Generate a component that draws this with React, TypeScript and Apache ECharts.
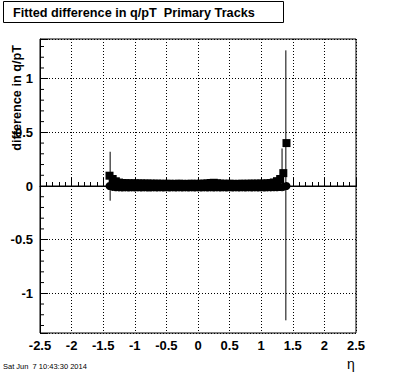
import React, { useEffect, useRef } from "react";
import * as echarts from "echarts";

// eta bin centres
const etaBins = [
  -1.4, -1.35, -1.3, -1.25, -1.2, -1.15, -1.1, -1.05, -1.0, -0.95,
  -0.9, -0.85, -0.8, -0.75, -0.7, -0.65, -0.6, -0.55, -0.5, -0.45,
  -0.4, -0.35, -0.3, -0.25, -0.2, -0.15, -0.1, -0.05, 0.0, 0.05,
  0.1, 0.15, 0.2, 0.25, 0.3, 0.35, 0.4, 0.45, 0.5, 0.55,
  0.6, 0.65, 0.7, 0.75, 0.8, 0.85, 0.9, 0.95, 1.0, 1.05,
  1.1, 1.15, 1.2, 1.25, 1.3, 1.35, 1.4,
];
// fitted difference (square markers)
const fittedDiff = [
  0.096, 0.065, 0.044, 0.032, 0.028, 0.026, 0.025, 0.024, 0.025, 0.023,
  0.024, 0.022, 0.023, 0.022, 0.021, 0.022, 0.02, 0.021, 0.02, 0.021,
  0.019, 0.02, 0.021, 0.02, 0.019, 0.02, 0.021, 0.02, 0.02, 0.021,
  0.022, 0.024, 0.028, 0.03, 0.025, 0.022, 0.021, 0.02, 0.021, 0.02,
  0.019, 0.02, 0.021, 0.02, 0.021, 0.022, 0.021, 0.022, 0.023, 0.022,
  0.025, 0.027, 0.033, 0.045, 0.065, 0.12, 0.4,
];
// second distribution (circle markers)
const circleDiff = [
  0.0, -0.008, -0.012, -0.013, -0.014, -0.013, -0.014, -0.013, -0.014, -0.013,
  -0.014, -0.013, -0.014, -0.014, -0.013, -0.014, -0.013, -0.014, -0.013, -0.014,
  -0.013, -0.014, -0.013, -0.014, -0.013, -0.014, -0.013, -0.014, -0.013, -0.014,
  -0.013, -0.014, -0.013, -0.014, -0.013, -0.014, -0.013, -0.014, -0.013, -0.014,
  -0.013, -0.014, -0.013, -0.014, -0.013, -0.014, -0.013, -0.014, -0.013, -0.014,
  -0.013, -0.013, -0.012, -0.012, -0.01, -0.008, 0.0,
];
// visible error bars: [eta, low, high]
const errorBars = [
  [-1.39, -0.137, 0.319],
  [1.33, -0.05, 0.35],
  [1.39, -1.252, 1.264],
];
// y-axis minor tick positions
const yMinorTicks = [
  -1.3, -1.2, -1.1, -0.9, -0.8, -0.7, -0.6, -0.4, -0.3, -0.2, -0.1,
  0.1, 0.2, 0.3, 0.4, 0.6, 0.7, 0.8, 0.9, 1.1, 1.2, 1.3,
];

const X_MIN = -2.5;
const X_MAX = 2.5;
const Y_MIN = -1.37;
const Y_MAX = 1.37;

const FONT = "'Liberation Sans', Arial, Helvetica, sans-serif";

export default function App() {
  const ref = useRef<HTMLDivElement>(null);

  useEffect(() => {
    if (!ref.current) return;
    const chart = echarts.init(ref.current, undefined, { renderer: "svg" });

    const squares = etaBins.map((e, i) => [e, fittedDiff[i]]);
    const circles = etaBins.map((e, i) => [e, circleDiff[i]]);

    const option: any = {
      animation: false,
      backgroundColor: "#ffffff",
      grid: {
        left: 40,
        right: 40,
        top: 39,
        bottom: 39,
        show: true,
        borderColor: "#000",
        borderWidth: 1,
        backgroundColor: "transparent",
        containLabel: false,
      },
      xAxis: {
        type: "value",
        min: X_MIN,
        max: X_MAX,
        interval: 0.5,
        axisLine: { show: true, lineStyle: { color: "#000", width: 1 } },
        axisTick: { show: true, inside: true, length: 8, lineStyle: { color: "#000" } },
        minorTick: { show: true, splitNumber: 5, length: 4, lineStyle: { color: "#000" } },
        splitLine: { show: true, lineStyle: { color: "#000", width: 1, type: [1, 2] } },
        axisLabel: {
          color: "#000",
          fontFamily: FONT,
          fontWeight: "bold",
          fontSize: 13,
          margin: 6,
          formatter: (v: number) => String(Math.round(v * 10) / 10),
        },
      },
      yAxis: {
        type: "value",
        min: Y_MIN,
        max: Y_MAX,
        minInterval: 0.5,
        maxInterval: 0.5,
        axisLine: { show: true, onZero: false, lineStyle: { color: "#000", width: 1 } },
        axisTick: { show: true, inside: true, length: 8, lineStyle: { color: "#000" } },
        splitLine: { show: true, lineStyle: { color: "#000", width: 1, type: [1, 2] } },
        axisLabel: {
          color: "#000",
          fontFamily: FONT,
          fontWeight: "bold",
          fontSize: 13,
          margin: 7,
          formatter: (v: number) => {
            const d = v * 2;
            if (Math.abs(d - Math.round(d)) > 1e-6) return "";
            return String(Math.round(v * 10) / 10);
          },
        },
      },
      series: [
        {
          type: "line",
          data: [
            [X_MIN, 0],
            [X_MAX, 0],
          ],
          symbol: "none",
          lineStyle: { color: "#000", width: 1 },
          z: 1,
          silent: true,
        },
        {
          type: "custom",
          data: yMinorTicks.map((v) => [X_MIN, v]),
          encode: { x: 0, y: 1 },
          clip: false,
          z: 1,
          silent: true,
          renderItem: (params: any, api: any) => {
            const p = api.coord([X_MIN, api.value(1)]);
            return {
              type: "line",
              shape: { x1: p[0], y1: p[1], x2: p[0] + 4, y2: p[1] },
              style: { stroke: "#000", lineWidth: 1 },
            };
          },
        },
        {
          type: "custom",
          data: errorBars,
          encode: { x: 0, y: [1, 2] },
          z: 2,
          silent: true,
          renderItem: (params: any, api: any) => {
            const lo = api.coord([api.value(0), api.value(1)]);
            const hi = api.coord([api.value(0), api.value(2)]);
            return {
              type: "line",
              shape: { x1: lo[0], y1: lo[1], x2: hi[0], y2: hi[1] },
              style: { stroke: "#000", lineWidth: 1 },
            };
          },
        },
        {
          type: "scatter",
          data: circles,
          symbol: "circle",
          symbolSize: 8,
          itemStyle: { color: "#000", opacity: 1 },
          z: 3,
          silent: true,
        },
        {
          type: "scatter",
          data: squares,
          symbol: "rect",
          symbolSize: 8,
          itemStyle: { color: "#000", opacity: 1 },
          z: 4,
          silent: true,
        },
      ],
      graphic: [
        {
          type: "rect",
          shape: { x: 3.5, y: 1.5, width: 280, height: 21 },
          style: { fill: "#fff", stroke: "#000", lineWidth: 1 },
          z: 10,
        },
        {
          type: "text",
          x: 13,
          y: 12.5,
          z: 11,
          style: {
            text: "Fitted difference in q/pT  Primary Tracks",
            fill: "#000",
            font: `bold 12.7px ${FONT}`,
            textAlign: "left",
            textVerticalAlign: "middle",
          },
        },
        {
          type: "text",
          x: 17,
          y: 45,
          rotation: Math.PI / 2,
          z: 11,
          style: {
            text: "difference in q/pT",
            fill: "#000",
            font: `bold 12.7px ${FONT}`,
            textAlign: "right",
            textVerticalAlign: "middle",
          },
        },
        {
          type: "text",
          x: 351,
          y: 364,
          z: 11,
          style: {
            text: "η",
            fill: "#000",
            font: `14px ${FONT}`,
            textAlign: "center",
            textVerticalAlign: "middle",
          },
        },
        {
          type: "text",
          x: 3,
          y: 366,
          z: 11,
          style: {
            text: "Sat Jun  7 10:43:30 2014",
            fill: "#000",
            font: `7.5px ${FONT}`,
            textAlign: "left",
            textVerticalAlign: "middle",
          },
        },
      ],
    };

    chart.setOption(option);
    return () => chart.dispose();
  }, []);

  return (
    <div
      ref={ref}
      style={{ position: "fixed", left: 0, top: 0, width: 396, height: 372, background: "#fff" }}
    />
  );
}
